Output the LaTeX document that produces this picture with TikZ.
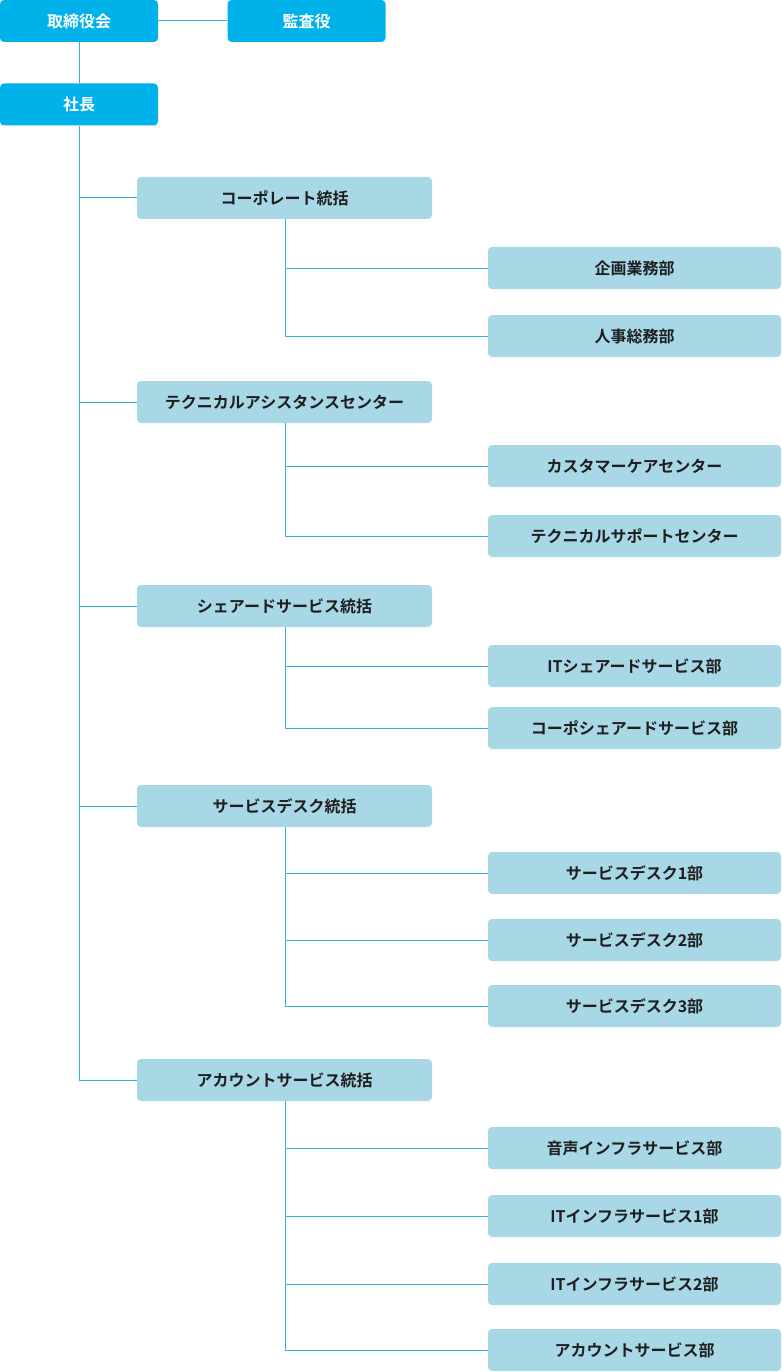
\documentclass[tikz,border=0pt]{standalone}
\usepackage{fontspec}
\setmainfont{Noto Sans CJK JP}[BoldFont={Noto Sans CJK JP Bold}]
\definecolor{top}{HTML}{00B1EA}
\definecolor{sub}{HTML}{A8D8E6}
\definecolor{ln}{HTML}{3AAFDD}
\definecolor{tx}{HTML}{1E1E1E}
\begin{document}
\begin{tikzpicture}[x=1pt,y=-1pt,
 topbox/.style={fill=top,text=white,rounded corners=4pt,minimum width=158pt,minimum height=42pt,font=\bfseries\fontsize{16}{18}\selectfont,inner sep=0},
 midbox/.style={fill=sub,text=tx,rounded corners=4pt,minimum width=295pt,minimum height=42pt,font=\bfseries\fontsize{16}{18}\selectfont,inner sep=0},
 lowbox/.style={fill=sub,text=tx,rounded corners=4pt,minimum width=293pt,minimum height=42pt,font=\bfseries\fontsize{16}{18}\selectfont,inner sep=0},
 conn/.style={draw=ln,line width=1pt}]
\useasboundingbox (0,0) rectangle (781,1372);
\node[topbox] (tori) at (79,21) {取締役会};
\node[topbox] (kansa) at (306.5,21) {監査役};
\node[topbox] (shacho) at (79,104.5) {社長};
\draw[conn] (tori) -- (kansa);
\draw[conn] (tori) -- (shacho);
% mid
\foreach \n/\y/\t in {m1/198/コーポレート統括, m2/402/テクニカルアシスタンスセンター, m3/606/シェアードサービス統括, m4/806/サービスデスク統括, m5/1080/アカウントサービス統括}
 {\node[midbox] (\n) at (284.5,\y) {\t};
  \draw[conn] (\n.west) -- (79,\y);}
\draw[conn] (shacho.south) -- (79,1080);
\foreach \n/\y/\t in {a1/268/企画業務部, a2/336/人事総務部, b1/466/カスタマーケアセンター, b2/536/テクニカルサポートセンター, c1/666/ITシェアードサービス部, c2/728/コーポシェアードサービス部, d1/873/サービスデスク1部, d2/940/サービスデスク2部, d3/1006/サービスデスク3部, e1/1148/音声インフラサービス部, e2/1216/ITインフラサービス1部, e3/1284/ITインフラサービス2部, e4/1350/アカウントサービス部}
 {\node[lowbox] (\n) at (634.5,\y) {\t};
  \draw[conn] (\n.west) -- (285,\y);}
\draw[conn] (285,219) -- (285,336);
\draw[conn] (285,423) -- (285,536);
\draw[conn] (285,627) -- (285,728);
\draw[conn] (285,827) -- (285,1006);
\draw[conn] (285,1101) -- (285,1350);
\end{tikzpicture}
\end{document}
